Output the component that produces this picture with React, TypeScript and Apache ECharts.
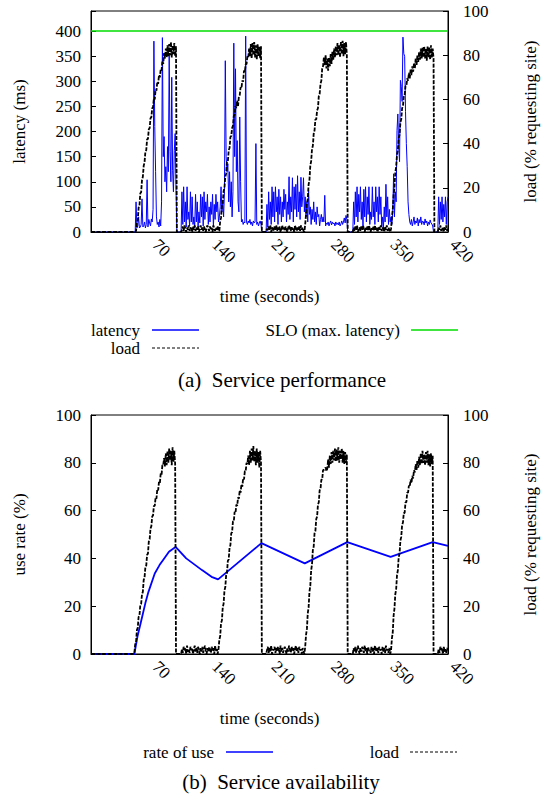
import { useEffect, useRef } from 'react';
import * as echarts from 'echarts';

const FONT = 'Liberation Serif';

// x-axis (seconds)
const timeMin = 0;
const timeMax = 420;
const timeInterval = 70;

// SLO threshold (ms)
const sloLatency = 400;

// (a) latency in ms, one value per second, t = 0..420
const latencyMs = [
  0,0,0,0,0,0,0,0,0,0,
  0,0,0,0,0,0,0,0,0,0,
  0,0,0,0,0,0,0,0,0,0,
  0,0,0,0,0,0,0,0,0,0,
  0,0,0,0,0,0,0,0,0,0,
  0,0,0,60,8,12,30,8,10,15,
  66,10,12,20,8,15,104,10,25,18,
  12,26,20,45,380,210,120,30,15,20,
  10,25,12,60,387,150,190,100,130,80,
  170,120,355,160,100,308,123,80,162,196,
  90,0,0,0,0,0,0,80,15,90,
  20,60,10,90,25,40,12,80,20,70,
  15,30,8,75,20,60,10,40,18,75,
  30,70,12,80,25,60,40,75,15,50,
  20,60,35,75,10,55,25,75,40,60,
  20,30,50,90,40,60,30,80,341,150,
  120,136,60,120,50,100,30,80,376,150,
  325,120,182,60,40,229,100,20,25,15,
  20,18,390,20,15,22,18,25,15,20,
  12,22,18,20,176,15,20,12,18,22,
  15,0,0,0,0,0,0,55,10,80,
  25,60,15,90,30,80,20,90,40,70,
  15,85,35,70,20,60,30,85,45,75,
  20,60,35,110,25,70,40,108,20,90,
  45,95,30,112,40,80,25,109,50,70,
  108,40,70,30,60,20,83,35,50,15,
  45,25,60,20,40,15,50,30,35,12,
  25,35,20,30,20,73,12,18,15,20,
  12,18,22,14,20,16,18,12,20,15,
  18,14,20,12,16,22,15,20,28,18,
  33,25,0,0,0,0,0,0,0,60,
  15,80,30,90,20,75,40,90,25,60,
  10,85,30,90,20,70,35,90,15,40,
  25,90,30,60,15,90,40,70,20,90,
  35,70,10,30,8,50,20,95,30,70,
  15,45,20,30,15,40,116,30,80,60,
  202,235,170,140,302,290,260,388,355,350,
  240,176,130,60,35,20,15,25,12,20,
  30,15,22,18,28,12,25,18,30,15,
  22,20,14,26,18,22,12,20,15,24,
  18,16,12,0,0,0,0,0,0,70,
  15,60,25,70,20,55,30,70,15,60,
  70,
];

// (a) load in % of requesting sites, one value per second, t = 0..420
const loadTop = [
  0,0,0,0,0,0,0,0,0,0,
  0,0,0,0,0,0,0,0,0,0,
  0,0,0,0,0,0,0,0,0,0,
  0,0,0,0,0,0,0,0,0,0,
  0,0,0,0,0,0,0,0,0,0,
  0,0,0,0.5,4,5.5,11,12,17.5,18,
  23.5,25,30,31.5,36.5,37,42,42,46.5,47,
  51.5,52,56,56.5,60.5,60,64.5,64,68,67,
  71,70,73.5,73,77.5,76,81,78.5,83,79,
  84.5,79.5,85,80,86,79,84.5,80.5,85.5,79.5,
  84,0,0,0,0,0,0,1,2.5,0.5,
  3,1.5,0,2,1,3,0.5,2,1.5,0,
  2.5,1,3,0.5,2,1,2.5,0,1.5,3,
  1,2,0.5,2.5,1,0,2,3,1.5,0.5,
  2.5,1,2,0,3,1.5,0.5,2,1,2.5,
  0.5,0.5,5,6.5,12,13,18.5,20,25,26.5,
  32,32,37,38,43,43.5,47,48,52.5,53,
  57,56,59.5,57,61.5,62,65.5,65,68.5,68,
  73,72.5,76,76,79.5,79,83,79.5,85,78.5,
  85.5,80,86,79,84.5,78,85,79.5,84,78.5,
  84,0,0,0,0,0,0,1.5,0.5,2.5,
  1,3,0,2,1.5,0.5,2.5,1,3,0.5,
  2,1,2.5,0,1.5,3,1,2,0.5,2.5,
  1,0,2,3,1.5,0.5,2.5,1,2,0,
  3,1.5,0.5,2,1,2.5,0.5,3,1,2,
  0.5,0,3.5,8,13,15,21.5,23.5,30,32,
  37.5,39,44.5,46,51,51,55,56,61.5,62.5,
  67,68.5,74,75,79,75.5,80,74,78.5,73,
  79,75,80.5,76,81.5,78,83,79,84,80,
  85.5,80,84.5,79,86,80.5,86.5,79.5,85.5,80.5,
  86,80,0,0,0,0,0,0,0,2,
  0.5,2.5,1,3,0,1.5,2,0.5,2.5,1,
  3,1.5,0,2,1,2.5,0.5,3,1.5,0,
  2,1,2.5,0.5,3,1,2,0,1.5,2.5,
  1,3,0.5,2,1.5,0,2.5,1,3,0.5,
  2,1,0,1.5,7,10,17,20,27,29.5,
  35,37,42.5,44,49.5,51,56,57,61.5,62,
  66,66,69.5,68.5,72,69.5,73.5,71,75,72.5,
  76.5,74,78.5,75.5,80,77,81.5,78,83,78.5,
  83.5,79,84,78.5,83,77.5,84,79,83.5,78,
  84.5,79,83,78.5,0,0,0,0,0,2,
  1,3,0.5,2,1.5,0,2.5,1,3,0.5,
  2,
];

// (b) load in % of requesting sites, one value per second, t = 0..420
const loadBottom = [
  0,0,0,0,0,0,0,0,0,0,
  0,0,0,0,0,0,0,0,0,0,
  0,0,0,0,0,0,0,0,0,0,
  0,0,0,0,0,0,0,0,0,0,
  0,0,0,0,0,0,0,0,0,0,
  0,0.5,4,5,10,11,15.5,16,20.5,21,
  25,26,31,32,36.5,37,41.5,42,47,48,
  52.5,53.5,57.5,58,62,62,65.5,65,69,68.5,
  72,71.5,75.5,75,79,79,82,78.5,84,79,
  85,80,86,81,85,79,86.5,80.5,85,79.5,
  0,0,0,0,0,0,0,2,0.5,3,
  1.5,2.5,0,3.5,1,2,0.5,3,1.5,2.5,
  0,2,3.5,1,2.5,0.5,3,1.5,0,2.5,
  1,3,0.5,2,3.5,1.5,0,2.5,1,3,
  2,0.5,3,1.5,2.5,0,3.5,1,2,0,
  2,6,7.5,13,14,19.5,21,26.5,28,33,
  34,39,39.5,44.5,45.5,50.5,51,55.5,55.5,59.5,
  59,62.5,62,65.5,65,68.5,67.5,71,70,73.5,
  73,76.5,76.5,80,79.5,83,79,85,80,86,
  81,87,80.5,85,79,86,80,84.5,78,85,
  80,0,0,0,0,0,0,1.5,3,0.5,
  2.5,1,3.5,0,2,1.5,3,0.5,2.5,1,
  3,2,0,3.5,1,2.5,0.5,2,3,1.5,
  0,2.5,1,3.5,2,0.5,3,1.5,2.5,0,
  2,3.5,1,2.5,0.5,3,1.5,2,0,2.5,
  1,0,3,8,10.5,17,19.5,26,28.5,35,
  37.5,43.5,45,50.5,51.5,56.5,57.5,62.5,63.5,68.5,
  69,73,73,77,77,77.5,78,76.5,77.5,81.5,
  78,83,79.5,84.5,80,85,81,86,80.5,85.5,
  81,86.5,80,85,81.5,86,80,85,79.5,84.5,
  80,83.5,0,0,0,0,0,0,0,2.5,
  1,3,0.5,2,3.5,1.5,0,2.5,1,3,
  2,0.5,3.5,1,2.5,0,3,1.5,2,0.5,
  3,1,2.5,0,3.5,2,1,2.5,0.5,3,
  1.5,2,0,3,1,2.5,0.5,3.5,1.5,2,
  0.5,2.5,0,1.5,6.5,9,16,19,25,27,
  33,35,40.5,42,47.5,49,54,55,59,59,
  63.5,63.5,67.5,67.5,70.5,70,73,71.5,74.5,73.5,
  77,76,79.5,77,81,78,82.5,79,84,79.5,
  85,80,83.5,79,84.5,80,85,79,83.5,78.5,
  84,79.5,83,0,0,0,0,0,0,2,
  0.5,3,1.5,2.5,0,3,1,2,0.5,2.5,
  1.5,
];

// (b) rate of use (%) at read-off times (s)
const useTime = [0, 51, 54.6, 60.2, 63.9, 67.6, 75, 80.6, 86.1, 91.7, 99.5, 112, 130.6, 141.8, 149.5, 200.5, 251.5, 301.5, 352.5, 402, 420];
const useRate = [0, 0, 7.2, 15.6, 21.2, 26, 33.7, 37.2, 40, 42.8, 44.8, 40, 35.1, 32.3, 31.2, 46.4, 37.9, 46.8, 40.6, 46.8, 45.2];

// texts
const xName = 'time (seconds)';
const yNameTopLeft = 'latency (ms)';
const yNameRight = 'load (% requesting site)';
const yNameBottomLeft = 'use rate (%)';
const captionTop = '(a)  Service performance';
const captionBottom = '(b)  Service availability';
const legendLatency = 'latency';
const legendLoad = 'load';
const legendSlo = 'SLO (max. latency)';
const legendUse = 'rate of use';

const BLUE = '#0000ff';
const GREEN = '#00dd00';
const BLACK = '#000000';

const perSecond = (vals: number[]) => vals.map((v, i) => [i, v]);

export default function App() {
  const ref = useRef<HTMLDivElement>(null);

  useEffect(() => {
    if (!ref.current) return;
    const chart = echarts.init(ref.current, undefined, { renderer: 'svg' });

    const textStyle = { fontFamily: FONT, fontSize: 17, color: BLACK };

    const xAxisBase = (gridIndex: number) => ({
      type: 'value' as const,
      gridIndex,
      min: timeMin,
      max: timeMax,
      interval: timeInterval,
      axisLine: { show: true, lineStyle: { color: BLACK, width: 1 } },
      axisTick: { show: false },
      splitLine: { show: false },
      axisLabel: {
        ...textStyle,
        rotate: -45,
        margin: 5,
        padding: [0, 0, 0, 7],
        formatter: (v: number) => (v === 0 ? '' : String(v)),
      },
      name: xName,
      nameLocation: 'middle' as const,
      nameGap: 56,
      nameTextStyle: textStyle,
    });

    const yAxisBase = (gridIndex: number, position: 'left' | 'right', max: number, interval: number, name: string, labelMax: number) => ({
      type: 'value' as const,
      gridIndex,
      position,
      min: 0,
      max,
      interval,
      axisLine: { show: true, lineStyle: { color: BLACK, width: 1 } },
      axisTick: { show: true, inside: true, length: 5, lineStyle: { color: BLACK, width: 1 } },
      splitLine: { show: false },
      axisLabel: {
        ...textStyle,
        margin: position === 'left' ? 10 : 15,
        formatter: (v: number) => (v > labelMax ? '' : String(v)),
      },
      name,
      nameLocation: 'middle' as const,
      nameRotate: 90,
      nameGap: position === 'left' ? 63 : 74,
      nameTextStyle: textStyle,
    });

    const legendText = (text: string, x: number, y: number) => ({
      type: 'text',
      x,
      y,
      style: {
        text,
        fontFamily: FONT,
        fontSize: 17,
        fill: BLACK,
        align: 'right',
        verticalAlign: 'middle',
      },
    });
    const legendLine = (x1: number, x2: number, y: number, stroke: string, dashed: boolean, width = 1.5) => ({
      type: 'line',
      shape: { x1, y1: y, x2, y2: y },
      style: { stroke, lineWidth: dashed ? 1 : width, lineDash: dashed ? [3, 2] : undefined },
    });
    const caption = (text: string, x: number, y: number) => ({
      type: 'text',
      x,
      y,
      style: {
        text,
        fontFamily: FONT,
        fontSize: 21,
        fill: BLACK,
        align: 'center',
        verticalAlign: 'middle',
      },
    });

    chart.setOption({
      animation: false,
      backgroundColor: '#ffffff',
      textStyle: { fontFamily: FONT },
      grid: [
        { left: 91, top: 11, width: 377, height: 221, show: true, borderColor: BLACK, borderWidth: 1, backgroundColor: 'transparent' },
        { left: 91, top: 415, width: 377, height: 239, show: true, borderColor: BLACK, borderWidth: 1, backgroundColor: 'transparent' },
      ],
      xAxis: [xAxisBase(0), xAxisBase(1)],
      yAxis: [
        yAxisBase(0, 'left', 440, 50, yNameTopLeft, 400),
        yAxisBase(0, 'right', 100, 20, yNameRight, 100),
        yAxisBase(1, 'left', 100, 20, yNameBottomLeft, 100),
        yAxisBase(1, 'right', 100, 20, yNameRight, 100),
      ],
      series: [
        {
          type: 'line',
          name: legendLatency,
          xAxisIndex: 0,
          yAxisIndex: 0,
          data: perSecond(latencyMs),
          symbol: 'none',
          lineStyle: { color: BLUE, width: 1 },
          itemStyle: { color: BLUE },
          silent: true,
        },
        {
          type: 'line',
          name: legendSlo,
          xAxisIndex: 0,
          yAxisIndex: 0,
          data: [[timeMin, sloLatency], [timeMax, sloLatency]],
          symbol: 'none',
          lineStyle: { color: GREEN, width: 1.5 },
          itemStyle: { color: GREEN },
          silent: true,
        },
        {
          type: 'line',
          name: legendLoad,
          xAxisIndex: 0,
          yAxisIndex: 1,
          data: perSecond(loadTop),
          symbol: 'none',
          lineStyle: { color: BLACK, width: 1.8, type: [4, 1.5] },
          itemStyle: { color: BLACK },
          silent: true,
        },
        {
          type: 'line',
          name: legendUse,
          xAxisIndex: 1,
          yAxisIndex: 2,
          data: useTime.map((t, i) => [t, useRate[i]]),
          symbol: 'none',
          lineStyle: { color: BLUE, width: 1.8 },
          itemStyle: { color: BLUE },
          silent: true,
        },
        {
          type: 'line',
          name: legendLoad,
          xAxisIndex: 1,
          yAxisIndex: 3,
          data: perSecond(loadBottom),
          symbol: 'none',
          lineStyle: { color: BLACK, width: 1.8, type: [4, 1.5] },
          itemStyle: { color: BLACK },
          silent: true,
        },
      ],
      graphic: [
        legendText(legendLatency, 140, 330),
        legendLine(152, 199, 330, BLUE, false),
        legendText(legendLoad, 140, 348),
        legendLine(152, 199, 348, BLACK, true),
        legendText(legendSlo, 400, 330),
        legendLine(411, 458, 330, GREEN, false),
        caption(captionTop, 282, 380),
        legendText(legendUse, 214, 752),
        legendLine(226, 273, 752, BLUE, false),
        legendText(legendLoad, 399, 752),
        legendLine(410, 457, 752, BLACK, true),
        caption(captionBottom, 281, 782),
      ],
    });

    return () => {
      chart.dispose();
    };
  }, []);

  return (
    <div
      ref={ref}
      style={{ position: 'absolute', left: 0, top: 0, width: 547, height: 800 }}
    />
  );
}
